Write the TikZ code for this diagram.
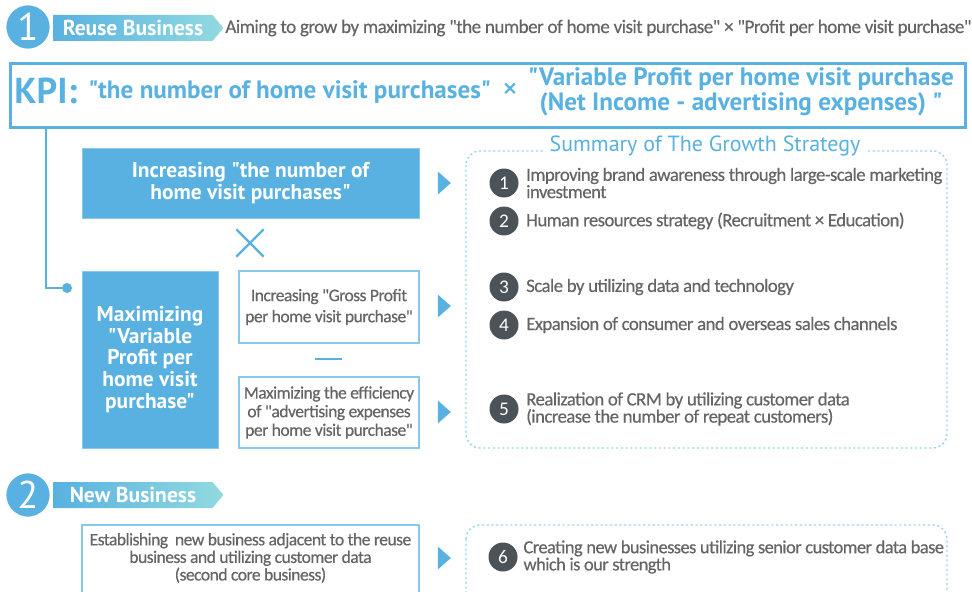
\documentclass[tikz,border=0pt]{standalone}
\usepackage{fontspec}
\setmainfont{Carlito}[Ligatures=TeXOff]
\newfontfamily\headfont{PT Sans}
\newfontfamily\tightfont{Carlito}[LetterSpace=-3, FakeBold=0.4]
\usetikzlibrary{positioning, shapes.geometric, shapes.misc, shapes.symbols}
\definecolor{bluemain}{HTML}{58B1E0}
\definecolor{cyanlight}{HTML}{92DAE0}
\definecolor{graytext}{HTML}{656565}
\definecolor{darkdot}{HTML}{4B5358}
\definecolor{dotline}{HTML}{9DD3F0}

\begin{document}
\begin{tikzpicture}[x=0.02cm, y=-0.02cm,
    bigno/.style={circle, fill=bluemain, draw=white, line width=1.5pt, minimum size=0.92cm, inner sep=0pt, text=white, font=\headfont\fontsize{22}{22}\selectfont},
    banner/.style={signal, signal to=east, signal pointer angle=100, left color=bluemain, right color=cyanlight, draw=none, minimum width=3.4cm, minimum height=0.52cm, inner sep=0pt, text=white, font=\headfont\bfseries\fontsize{12.3}{12}\selectfont},
    solidbox/.style={fill=bluemain, draw=bluemain!70!white, text=white, align=center, inner sep=0pt, font=\headfont\bfseries\fontsize{12.2}{12.4}\selectfont},
    linebox/.style={draw=bluemain!70!white, line width=0.9pt, fill=white, text=graytext, align=center, inner sep=0pt, font=\tightfont\fontsize{10}{12}\selectfont},
    pointer/.style={isosceles triangle, isosceles triangle stretches, fill=bluemain, inner sep=0pt, minimum width=0.46cm, minimum height=0.26cm},
    dotbox/.style={draw=dotline, dash pattern=on 1.2pt off 1.5pt, line width=0.8pt, rounded corners=8pt},
    numdot/.style={circle, fill=darkdot, text=white, minimum size=0.58cm, inner sep=0pt, font=\fontsize{11}{11}\selectfont},
    item/.style={anchor=west, text=graytext, align=left, inner sep=0pt, font=\tightfont\fontsize{10.7}{9.8}\selectfont}
  ]
  \useasboundingbox (0,0) rectangle (972,591);

  % section 1 heading
  \node[banner] (bn1) at (133,28) {Reuse Business};
  \node[bigno] (no1) at (28,27) {1};
  \node[anchor=west, text=graytext, inner sep=0pt, font=\tightfont\fontsize{10.9}{12}\selectfont] (intro) at (225,28)
    {Aiming to grow by maximizing "the number of home visit purchase" × "Profit per home visit purchase"};

  % KPI frame
  \node[draw=bluemain, line width=1.5pt, minimum width=955*0.02cm, minimum height=64*0.02cm, anchor=north west, inner sep=0pt] (kpi) at (9,62) {};
  \node[anchor=west, text=bluemain, inner sep=0pt, font=\headfont\bfseries\fontsize{20.5}{21}\selectfont] (kpilbl) at (14,91) {KPI:};
  \node[anchor=west, text=bluemain, inner sep=0pt, font=\headfont\bfseries\fontsize{14.3}{14}\selectfont] (kpinum) at (88,92) {"the number of home visit purchases"};
  \node[text=bluemain, inner sep=0pt, font=\headfont\fontsize{18}{18}\selectfont] (kpix) at (510,91) {×};
  \node[text=bluemain, align=center, inner sep=0pt, font=\headfont\bfseries\fontsize{14.3}{12.2}\selectfont] (kpivar) at (741,92)
    {"Variable Profit per home visit purchase\\(Net Income - advertising expenses) "};

  % left column
  \node[solidbox, minimum width=337*0.02cm, minimum height=70*0.02cm] (grow1) at (250.5,183)
    {Increasing "the number of\\home visit purchases"};
  \node[cross out, draw=bluemain, line width=1.3pt, minimum size=0.5cm, inner sep=0pt] (times) at (250,243) {};
  \node[solidbox, minimum width=136*0.02cm, minimum height=177*0.02cm] (grow2) at (150,359.5)
    {Maximizing\\"Variable\\Profit per\\home visit\\purchase"};
  \node[linebox, minimum width=180*0.02cm, minimum height=72*0.02cm] (gross) at (329,307)
    {Increasing "Gross Profit\\per home visit purchase"};
  \node[fill=bluemain, minimum width=0.54cm, minimum height=0.05cm, inner sep=0pt] (minus) at (328.5,359) {};
  \node[linebox, minimum width=180*0.02cm, minimum height=71*0.02cm, font=\tightfont\fontsize{10}{10.6}\selectfont] (adexp) at (329,412.5)
    {Maximizing the efficiency\\of "advertising expenses\\per home visit purchase"};

  % connector from the KPI frame
  \node[circle, fill=bluemain, minimum size=0.2cm, inner sep=0pt] (tap) at (67,288) {};
  \draw[bluemain, line width=1.5pt] (kpi.south west) ++(37,0) |- (tap);

  % pointers
  \node[pointer] (p1) at (443,183) {};
  \node[pointer] (p2) at (443,306) {};
  \node[pointer] (p3) at (443,412) {};

  % strategy summary
  \draw[dotbox] (466,151) rectangle (947,448);
  \node[fill=white, text=bluemain, inner xsep=4pt, font=\headfont\fontsize{12.5}{13}\selectfont] (summary) at (705,146) {Summary of The Growth Strategy};
  \foreach \n/\y/\txt in {
      1/183/{Improving brand awareness through large-scale marketing\\investment},
      2/221/{Human resources strategy (Recruitment × Education)},
      3/287/{Scale by utilizing data and technology},
      4/325/{Expansion of consumer and overseas sales channels},
      5/409/{Realization of CRM by utilizing customer data\\(increase the number of repeat customers)}} {
    \node[numdot] (s\n) at (504,\y) {\n};
    \node[item, right=4pt of s\n] (t\n) {\txt};
  }

  % section 2 heading
  \node[banner] (bn2) at (133,495) {New Business};
  \node[bigno] (no2) at (28,495) {2};

  \node[linebox, minimum width=337*0.02cm, minimum height=80*0.02cm, anchor=north] (newbiz) at (250.5,524) {};
  \node[text=graytext, align=center, inner sep=0pt, font=\tightfont\fontsize{10}{10}\selectfont] (newbiztxt) at (250.5,558)
    {Establishing\ \ new business adjacent\ to the reuse\\business\ and utilizing\ customer\ data\\(second\ core business)};
  \node[pointer] (p4) at (443,558) {};
  \draw[dotbox] (466,525) rectangle (947,610);
  \node[numdot] (s6) at (503,557) {6};
  \node[item, right=3pt of s6, font=\tightfont\fontsize{10.5}{9.8}\selectfont] (t6)
    {Creating new businesses utilizing senior customer data base\\which is our strength};
\end{tikzpicture}
\end{document}
